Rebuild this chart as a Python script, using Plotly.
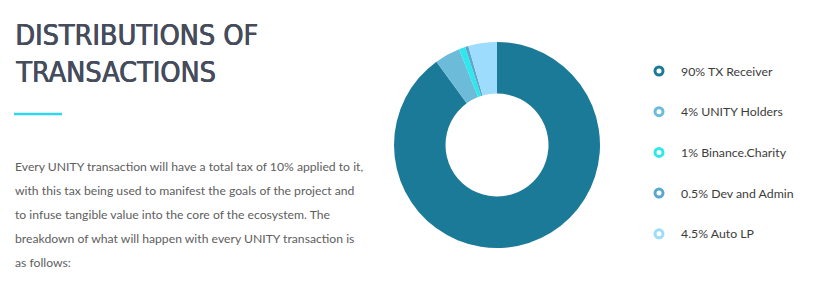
import plotly.graph_objects as go

labels = ["90% TX Receiver", "4% UNITY Holders", "1% Binance.Charity", "0.5% Dev and Admin", "4.5% Auto LP"]
values = [90, 4, 1, 0.5, 4.5]
colors = ["#1c7a99", "#6bbbd9", "#2ee8ec", "#5ba6cc", "#9edcfd"]

title_lines = ["DISTRIBUTIONS OF", "TRANSACTIONS"]
body_lines = [
    "Every UNITY transaction will have a total tax of 10% applied to it,",
    "with this tax being used to manifest the goals of the project and",
    "to infuse tangible value into the core of the ecosystem. The",
    "breakdown of what will happen with every UNITY transaction is",
    "as follows:",
]

W, H = 819, 292
fig = go.Figure()

# donut
cx0, cx1, cy0, cy1 = 394, 600, 42, 248
fig.add_trace(go.Pie(
    labels=labels, values=values, hole=0.5, sort=False, direction="clockwise",
    rotation=0, marker=dict(colors=colors, line=dict(width=0)),
    textinfo="none", hoverinfo="label", showlegend=False,
    domain=dict(x=[cx0 / W, cx1 / W], y=[1 - cy1 / H, 1 - cy0 / H]),
))

# legend markers as ring markers on a pixel overlay axis
leg_x, leg_y0, leg_dy = 659, 71, 40.7
leg_y = [leg_y0 + i * leg_dy for i in range(len(labels))]
fig.add_trace(go.Scatter(
    x=[leg_x] * len(labels), y=leg_y,
    mode="markers",
    marker=dict(symbol="circle-open", size=8, line=dict(width=3, color=colors), color=colors),
    showlegend=False, hoverinfo="skip", cliponaxis=False,
))

annotations = []
for lab, yy in zip(labels, leg_y):
    annotations.append(dict(
        x=679, y=yy, xref="x", yref="y", text=lab, showarrow=False,
        xanchor="left", yanchor="middle",
        font=dict(family="Lato", size=12.3, color="#3c3c3c"),
    ))
for i, t in enumerate(title_lines):
    annotations.append(dict(
        x=13, y=35.5 + i * 36.5, xref="x", yref="y", text=t, showarrow=False,
        xanchor="left", yanchor="middle",
        font=dict(family="DejaVu Sans Condensed", size=28.5, color="#454c5c",
                  shadow="0.7px 0 0 #454c5c, 0.35px 0 0 #454c5c"),
    ))
for i, t in enumerate(body_lines):
    annotations.append(dict(
        x=13, y=166 + i * 24.2, xref="x", yref="y", text=t, showarrow=False,
        xanchor="left", yanchor="middle",
        font=dict(family="Lato", size=12.2, color="#5e5e5e"),
    ))

fig.update_layout(
    width=W, height=H, margin=dict(l=0, r=0, t=0, b=0),
    paper_bgcolor="white", plot_bgcolor="white",
    xaxis=dict(range=[0, W], visible=False, fixedrange=True),
    yaxis=dict(range=[H, 0], visible=False, fixedrange=True),
    annotations=annotations,
    shapes=[dict(type="line", xref="x", yref="y", x0=14, x1=62, y0=114, y1=114,
                 line=dict(color="#33d4ee", width=2.5))],
)

fig.write_html("out.html")
